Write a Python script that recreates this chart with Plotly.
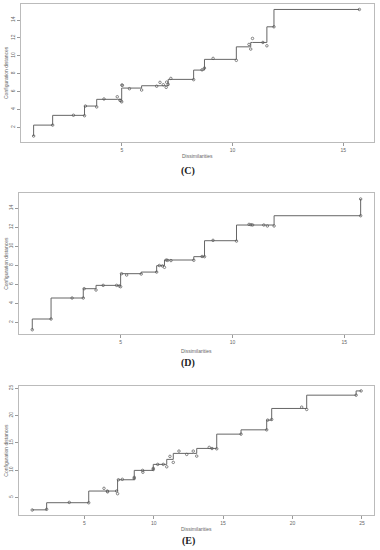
import plotly.graph_objects as go

# Panel C: dissimilarities, configuration distances, fitted (isotonic) values
c_x = [1.01, 1.87, 2.81, 3.31, 3.35, 3.86, 4.19, 4.79, 4.91, 4.96, 4.99, 5.00, 5.02, 5.34, 5.89,
       6.57, 6.72, 6.87, 7.00, 7.02, 7.09, 7.21, 8.24, 8.62, 8.73, 9.12, 10.17, 10.74, 10.82,
       10.90, 11.37, 11.55, 11.87, 15.73]
c_y = [1.03, 2.25, 3.35, 3.30, 4.38, 4.28, 5.17, 5.42, 5.02, 4.98, 4.85, 6.73, 6.69, 6.32, 6.17,
       6.60, 7.03, 6.76, 6.47, 7.05, 6.80, 7.47, 7.33, 8.43, 8.63, 9.71, 9.49, 11.27, 10.75,
       11.94, 11.49, 11.12, 13.24, 15.18]
c_fit = [1.03, 2.25, 3.34, 3.34, 4.38, 4.38, 5.13, 5.13, 5.13, 5.13, 5.13, 6.39, 6.39, 6.39, 6.39,
         6.65, 6.65, 6.65, 6.65, 6.65, 6.65, 7.36, 7.36, 8.40, 8.40, 9.60, 9.60, 11.00, 11.00,
         11.49, 11.49, 11.49, 13.24, 15.18]

# Panel D
d_x = [1.05, 1.89, 2.83, 3.33, 3.37, 3.90, 4.22, 4.82, 4.94, 5.00, 5.04, 5.27, 5.92, 6.61,
       6.73, 6.87, 6.96, 7.04, 7.10, 7.25, 8.27, 8.64, 8.75, 9.13, 10.18, 10.74, 10.83, 10.90,
       11.40, 11.56, 11.86, 15.73, 15.73]
d_y = [1.22, 2.35, 4.56, 4.56, 5.54, 5.40, 5.89, 5.89, 5.82, 5.75, 7.12, 6.98, 7.08, 7.29,
       7.98, 7.94, 7.79, 8.56, 8.52, 8.50, 8.53, 8.93, 8.91, 10.63, 10.55, 12.31, 12.27, 12.25,
       12.24, 12.14, 12.14, 13.22, 14.98]
d_fit = [1.22, 2.35, 4.56, 4.56, 5.54, 5.54, 5.89, 5.89, 5.89, 5.89, 7.12, 7.12, 7.12, 7.29,
         7.96, 7.96, 7.96, 8.56, 8.56, 8.56, 8.56, 8.91, 8.91, 10.59, 10.59, 12.24, 12.24, 12.24,
         12.24, 12.24, 12.24, 13.22, 14.98]

# Panel E
e_x = [1.25, 2.29, 3.92, 5.32, 6.42, 6.66, 6.68, 7.33, 7.40, 7.46, 7.74, 8.60, 8.60, 9.20,
       9.22, 9.97, 9.97, 10.29, 10.69, 10.94, 11.17, 11.41, 11.82, 12.38, 12.85, 13.10, 14.00,
       14.20, 14.54, 16.29, 18.14, 18.21, 18.50, 20.66, 21.02, 24.58, 24.94]
e_y = [2.67, 2.80, 4.07, 4.00, 6.65, 6.15, 6.00, 6.15, 5.66, 8.22, 8.30, 8.66, 8.45, 9.94,
       9.60, 10.31, 10.10, 11.04, 11.04, 10.60, 12.51, 11.41, 13.48, 12.87, 13.48, 12.56, 14.16,
       13.95, 13.90, 16.59, 17.38, 19.16, 19.28, 21.54, 21.12, 23.74, 24.52]
e_fit = [2.70, 2.70, 4.01, 4.01, 6.15, 6.15, 6.15, 6.15, 6.15, 8.22, 8.22, 8.22, 8.22, 9.94,
         9.94, 9.94, 9.94, 11.04, 11.04, 11.04, 11.96, 11.96, 13.06, 13.06, 13.06, 13.06, 13.97,
         13.97, 13.97, 16.59, 17.38, 19.16, 19.16, 21.30, 21.30, 23.74, 24.52]

c_yticks = [2, 4, 6, 8, 10, 12, 14]
d_yticks = [2, 4, 6, 8, 10, 12, 14]
e_yticks = [5, 10, 15, 20, 25]
c_xticks = [5, 10, 15]
d_xticks = [5, 10, 15]
e_xticks = [5, 10, 15, 20, 25]
panel_labels = ["(C)", "(D)", "(E)"]
x_title = "Dissimilarities"
y_title = "Configuration distances"

W, H = 380, 550
panels = [
    dict(x=c_x, y=c_y, f=c_fit, xt=c_xticks, yt=c_yticks, box=(21, 374, 4, 142),
         xr=[0.44, 16.39], yr=[0.36, 15.79], xtl=156, lab=171),
    dict(x=d_x, y=d_y, f=d_fit, xt=d_xticks, yt=d_yticks, box=(19.3, 374.3, 193.3, 334.3),
         xr=[0.47, 16.34], yr=[0.74, 15.58], xtl=351, lab=363),
    dict(x=e_x, y=e_y, f=e_fit, xt=e_xticks, yt=e_yticks, box=(19.3, 374.3, 386, 515.3),
         xr=[0.32, 25.89], yr=[1.70, 25.42], xtl=529, lab=541),
]

fig = go.Figure()
layout = {}
annotations = []
for i, p in enumerate(panels):
    n = "" if i == 0 else str(i + 1)
    fig.add_trace(go.Scatter(x=p["x"], y=p["f"], mode="lines",
                             line=dict(shape="vh", color="#666666", width=1),
                             xaxis="x" + n, yaxis="y" + n, showlegend=False, hoverinfo="skip"))
    fig.add_trace(go.Scatter(x=p["x"], y=p["y"], mode="markers",
                             marker=dict(symbol="circle-open", size=2.5, color="#555555",
                                         line=dict(width=0.7, color="#555555")),
                             xaxis="x" + n, yaxis="y" + n, showlegend=False))
    x0, x1, y0, y1 = p["box"]
    common = dict(showgrid=False, zeroline=False, showline=True, mirror=True,
                  linecolor="#bbbbbb", linewidth=1, ticks="outside", ticklen=3,
                  tickcolor="#999999", tickwidth=1, automargin=False,
                  tickfont=dict(size=5, color="#666666", family="Liberation Sans"))
    layout["xaxis" + n] = dict(domain=[x0 / W, x1 / W], range=p["xr"], tickvals=p["xt"],
                               anchor="y" + n, **common)
    layout["yaxis" + n] = dict(domain=[1 - y1 / H, 1 - y0 / H], range=p["yr"], tickvals=p["yt"],
                               anchor="x" + n, tickangle=-90, **common)
    ann = dict(xref="paper", yref="paper", showarrow=False, xanchor="center", yanchor="middle")
    annotations.append(dict(text=x_title, x=(x0 + x1) / 2 / W, y=1 - p["xtl"] / H,
                            font=dict(size=5, color="#666666", family="Liberation Sans"), **ann))
    annotations.append(dict(text=y_title, x=6 / W, y=1 - (y0 + y1) / 2 / H, textangle=-90,
                            font=dict(size=5, color="#666666", family="Liberation Sans"), **ann))
    annotations.append(dict(text="<b>" + panel_labels[i] + "</b>", x=188 / W, y=1 - p["lab"] / H,
                            font=dict(size=10, color="#222222", family="Liberation Serif"), **ann))

fig.update_layout(width=W, height=H, margin=dict(l=0, r=0, t=0, b=0, autoexpand=False),
                  template="none",
                  paper_bgcolor="white", plot_bgcolor="white",
                  annotations=annotations, **layout)
fig.write_html("out.html", config={"displayModeBar": False},
               post_script="document.body.style.margin='0';document.body.style.overflow='hidden';")
